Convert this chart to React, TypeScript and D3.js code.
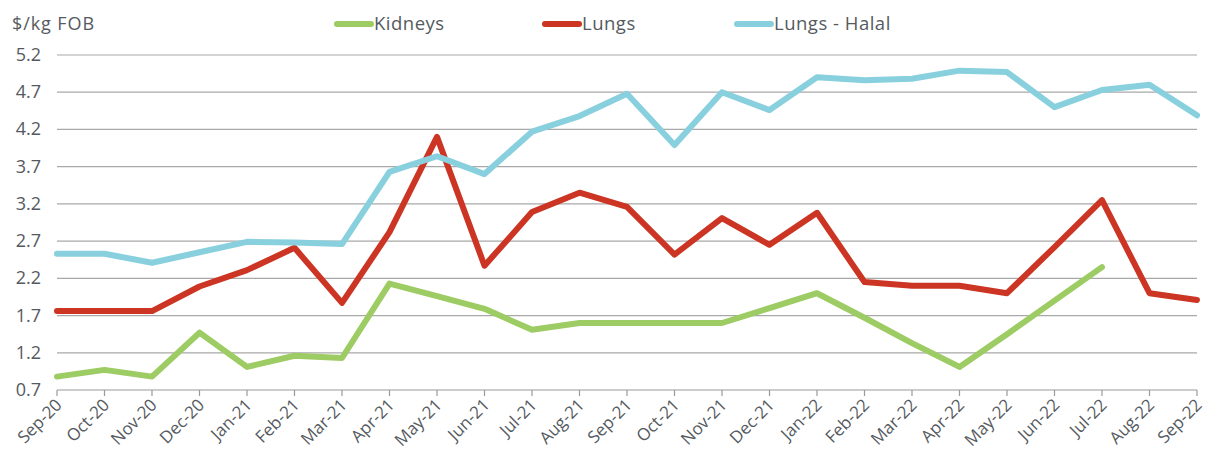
import React from "react";
import * as d3 from "d3";

const months = [
  "Sep-20", "Oct-20", "Nov-20", "Dec-20", "Jan-21", "Feb-21", "Mar-21", "Apr-21",
  "May-21", "Jun-21", "Jul-21", "Aug-21", "Sep-21", "Oct-21", "Nov-21", "Dec-21",
  "Jan-22", "Feb-22", "Mar-22", "Apr-22", "May-22", "Jun-22", "Jul-22", "Aug-22", "Sep-22"
];

const kidneys = [
  0.88, 0.97, 0.88, 1.47, 1.01, 1.16, 1.13, 2.13, 1.96, 1.79, 1.51, 1.6, 1.6,
  1.6, 1.6, 1.8, 2.0, 1.67, 1.33, 1.01, 1.45, 1.9, 2.35, null, null
];

const lungs = [
  1.76, 1.76, 1.76, 2.09, 2.31, 2.61, 1.87, 2.82, 4.1, 2.37, 3.09, 3.35, 3.16,
  2.52, 3.01, 2.65, 3.08, 2.15, 2.1, 2.1, 2.0, 2.62, 3.25, 2.0, 1.91
];

const lungsHalal = [
  2.53, 2.53, 2.41, 2.55, 2.69, 2.68, 2.66, 3.63, 3.84, 3.6, 4.17, 4.38, 4.68,
  3.99, 4.7, 4.46, 4.9, 4.86, 4.88, 4.99, 4.97, 4.5, 4.73, 4.8, 4.39
];

const yTicks = [0.7, 1.2, 1.7, 2.2, 2.7, 3.2, 3.7, 4.2, 4.7, 5.2];

const series = [
  { name: "Kidneys", values: kidneys, color: "#9ccc63", legendX: 337 },
  { name: "Lungs", values: lungs, color: "#cc3523", legendX: 545 },
  { name: "Lungs - Halal", values: lungsHalal, color: "#89d0de", legendX: 737 }
];

const W = 1207;
const H = 465;
const left = 57;
const right = 1197;
const top = 55;
const bottom = 390;
const font = "'Open Sans', Lato, sans-serif";
const textColor = "#555a60";

export default function App() {
  const x = d3.scalePoint<string>().domain(months).range([left, right]);
  const y = d3.scaleLinear().domain([0.7, 5.2]).range([bottom, top]);

  const line = d3
    .line<number | null>()
    .defined((d) => d !== null)
    .x((d, i) => x(months[i]) as number)
    .y((d) => y(d as number));

  return (
    <svg
      width={W}
      height={H}
      style={{ position: "absolute", left: 0, top: 0, background: "#fff" }}
    >
      <text x={12} y={30} fontFamily={font} fontSize={18} letterSpacing={0.9} fill={textColor}>
        $/kg FOB
      </text>

      {yTicks.map((t) => (
        <g key={t}>
          <line
            x1={left}
            x2={right}
            y1={y(t)}
            y2={y(t)}
            stroke={t === 0.7 ? "#9a9a9a" : "#a8a8a8"}
            strokeWidth={1.2}
          />
          <text
            x={41}
            y={y(t) + 6}
            textAnchor="end"
            fontFamily={font}
            fontSize={18}
            fill={textColor}
          >
            {t.toFixed(1)}
          </text>
        </g>
      ))}

      {months.map((m) => {
        const px = x(m) as number;
        return (
          <g key={m}>
            <line x1={px} x2={px} y1={bottom} y2={bottom + 6} stroke="#9a9a9a" strokeWidth={1.2} />
            <text
              transform={`translate(${px + 6},${bottom + 16}) rotate(-45)`}
              textAnchor="end"
              fontFamily={font}
              fontSize={17}
              fill={textColor}
            >
              {m}
            </text>
          </g>
        );
      })}

      {series.map((s) => (
        <path
          key={s.name}
          d={line(s.values) || ""}
          fill="none"
          stroke={s.color}
          strokeWidth={6}
          strokeLinejoin="round"
          strokeLinecap="round"
        />
      ))}

      {series.map((s) => (
        <g key={s.name + "-legend"}>
          <line
            x1={s.legendX}
            x2={s.legendX + 34}
            y1={24}
            y2={24}
            stroke={s.color}
            strokeWidth={6}
            strokeLinecap="round"
          />
          <text
            x={s.legendX + 37}
            y={30}
            fontFamily={font}
            fontSize={18.5}
            letterSpacing={0.5}
            fill={textColor}
          >
            {s.name}
          </text>
        </g>
      ))}
    </svg>
  );
}
